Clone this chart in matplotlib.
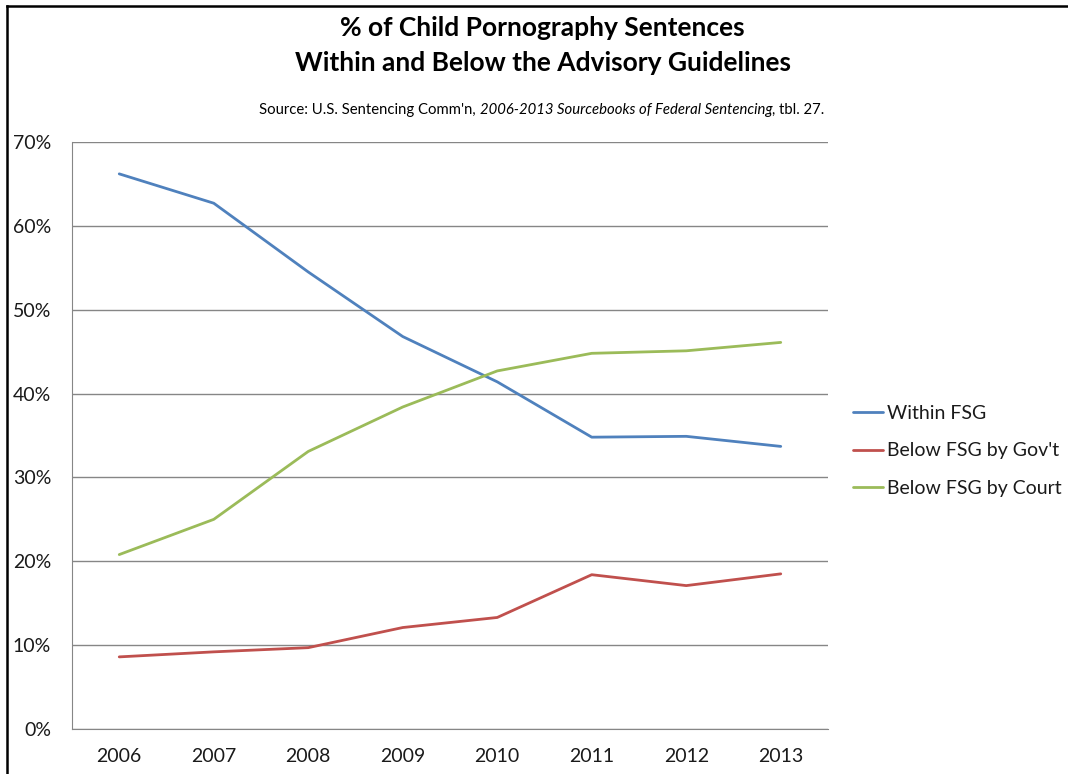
import numpy as np
import matplotlib
matplotlib.use('Agg')
import matplotlib.pyplot as plt
from matplotlib.lines import Line2D
from matplotlib.ticker import FuncFormatter

years = [2006, 2007, 2008, 2009, 2010, 2011, 2012, 2013]
within_fsg = [66.2, 62.7, 54.5, 46.8, 41.4, 34.8, 34.9, 33.7]
below_gov = [8.6, 9.2, 9.7, 12.1, 13.3, 18.4, 17.1, 18.5]
below_court = [20.8, 25.0, 33.1, 38.4, 42.7, 44.8, 45.1, 46.1]
labels = ['Within FSG', "Below FSG by Gov't", 'Below FSG by Court']
colors = ['#4F81BD', '#C0504D', '#9BBB59']

plt.rcParams['font.family'] = ['Lato', 'DejaVu Sans']

fig = plt.figure(figsize=(10.68, 7.74), dpi=100)
ax = fig.add_axes([72/1068, 1 - 729/774, (828-72)/1068, (729-142)/774])

x = np.arange(len(years))
for series, lab, col in zip([within_fsg, below_gov, below_court], labels, colors):
    ax.plot(x, series, color=col, lw=2.0, label=lab, solid_capstyle='round')

ax.set_xlim(-0.5, len(years) - 0.5)
ax.set_ylim(0, 70)
ax.set_yticks(np.arange(0, 71, 10))
ax.yaxis.set_major_formatter(FuncFormatter(lambda v, p: '{:.0f}%'.format(v)))
ax.set_xticks(x)
ax.set_xticklabels([str(y) for y in years])
ax.grid(axis='y', color='#868686', lw=1.0)
ax.set_axisbelow(True)
for s in ['top', 'right']:
    ax.spines[s].set_visible(False)
for s in ['left', 'bottom']:
    ax.spines[s].set_color('#868686')
ax.tick_params(axis='both', length=0, labelsize=14)
ax.tick_params(axis='y', pad=15)
ax.tick_params(axis='x', pad=14)
for t in ax.get_yticklabels() + ax.get_xticklabels():
    t.set_color('#1a1a1a')

leg = ax.legend(loc='center left', bbox_to_anchor=(853/1068, 1 - 451/774),
                bbox_transform=fig.transFigure, frameon=False, borderpad=0,
                borderaxespad=0, fontsize=14, handlelength=1.55,
                handletextpad=0.2, labelspacing=1.05)
for t in leg.get_texts():
    t.set_color('#1a1a1a')

# titles
fig.text(0.508, 1 - 28/774, '% of Child Pornography Sentences', ha='center', va='center',
         fontsize=19, fontweight='bold')
fig.text(0.508, 1 - 63/774, 'Within and Below the Advisory Guidelines', ha='center', va='center',
         fontsize=19, fontweight='bold')

# source line with italic middle part
parts = [('Source: U.S. Sentencing Comm\'n, ', 'normal'),
         ('2006-2013 Sourcebooks of Federal Sentencing', 'italic'),
         (', tbl. 27.', 'normal')]
fig.canvas.draw()
r = fig.canvas.get_renderer()
texts = []
xpos = 260
for s, st in parts:
    t = fig.text(xpos/1068, 1 - 110/774, s, ha='left', va='center', fontsize=10.7, style=st)
    w = t.get_window_extent(renderer=r).width
    xpos += w
    texts.append(t)
# recentre source line around x=542
shift = (542 - (260 + xpos) / 2) / 1068
for t in texts:
    px, py = t.get_position()
    t.set_position((px + shift, py))

# outer frame (left and top edges)
fig.add_artist(Line2D([7/1068, 7/1068], [0, 1 - 6/774], color='black', lw=1.8))
fig.add_artist(Line2D([7/1068, 1], [1 - 6/774, 1 - 6/774], color='black', lw=1.8))

fig.savefig('out.png', dpi=100)
